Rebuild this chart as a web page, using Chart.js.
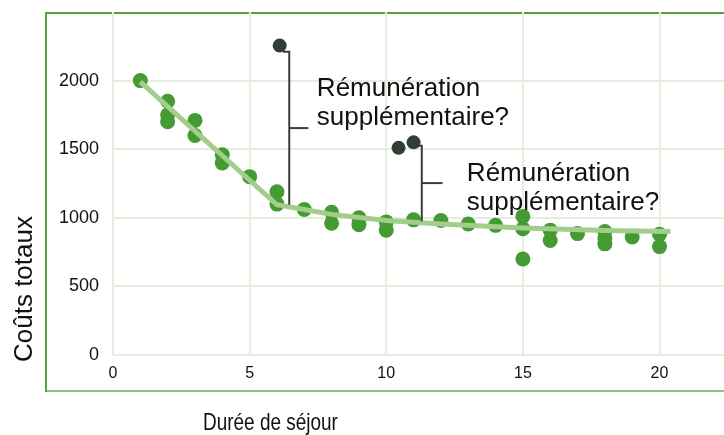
<!DOCTYPE html>
<html>
<head>
<meta charset="utf-8">
<script src="https://cdn.jsdelivr.net/npm/chart.js@4"></script>
<style>
  html, body { margin: 0; padding: 0; background: #fff; }
  #wrap { width: 724px; height: 435px; }
</style>
</head>
<body>
<div id="wrap"><canvas id="costChart" width="724" height="435"></canvas></div>
<script>
// durée de séjour / coûts totaux
const stayDays   = [1, 2, 2, 2, 3, 3, 4, 4, 5, 6, 6, 7, 8, 8, 9, 9, 10, 10, 11, 12, 13, 14, 15, 15, 15, 16, 16, 17, 18, 18, 18, 19, 20, 20];
const totalCosts = [2000, 1850, 1750, 1700, 1710, 1600, 1460, 1400, 1300, 1190, 1100, 1060, 1040, 960, 1000, 950, 970, 910, 985, 980, 955, 945, 1010, 920, 700, 910, 835, 885, 900, 850, 810, 860, 880, 790];

// points hors tendance
const outlierDays  = [6.1, 10.45, 11];
const outlierCosts = [2255, 1510, 1550];

// courbe de tendance
const trendDays  = [1, 6, 7, 8, 10, 12, 15, 18, 20.4];
const trendCosts = [1990, 1095, 1060, 1025, 980, 955, 925, 908, 900];

// crochets des annotations
const bracket1Days  = [6.22, 6.45, 6.45];
const bracket1Costs = [2211, 2211, 1095];
const tick1Days  = [6.45, 7.15];
const tick1Costs = [1654, 1654];
const bracket2Days  = [11.16, 11.3, 11.3];
const bracket2Costs = [1525, 1525, 974];
const tick2Days  = [11.3, 12.06];
const tick2Costs = [1253, 1253];

const noteLabel = ["Rémunération", "supplémentaire?"];
const noteDays  = [7.46, 12.95];
const noteCosts = [1888, 1265];

const xTicks = [0, 5, 10, 15, 20];
const yTicks = [0, 500, 1000, 1500, 2000];

const xTitle = "Durée de séjour";
const yTitle = "Coûts totaux";

const pts = (xs, ys) => xs.map((x, i) => ({ x: x, y: ys[i] }));

const bracketStyle = {
  showLine: true, pointRadius: 0, borderColor: '#36403b', borderWidth: 2, tension: 0, order: 1
};

const framePlugin = {
  id: 'frame',
  beforeDraw(chart) {
    const ctx = chart.ctx;
    ctx.save();
    ctx.lineWidth = 2;
    ctx.strokeStyle = '#8cc47f';
    ctx.beginPath(); ctx.moveTo(46, 391); ctx.lineTo(724, 391); ctx.stroke();
    ctx.strokeStyle = '#55a244';
    ctx.beginPath(); ctx.moveTo(46, 392); ctx.lineTo(46, 13); ctx.lineTo(724, 13); ctx.stroke();
    ctx.restore();
  },
  afterDraw(chart) {
    const ctx = chart.ctx;
    const xs = chart.scales.x, ys = chart.scales.y;
    ctx.save();
    ctx.fillStyle = '#111';
    // annotations
    ctx.font = '26px "Liberation Sans", Arial, sans-serif';
    ctx.textAlign = 'left';
    ctx.textBaseline = 'alphabetic';
    noteDays.forEach((d, i) => {
      const px = xs.getPixelForValue(d);
      const py = ys.getPixelForValue(noteCosts[i]);
      ctx.fillText(noteLabel[0], px, py);
      ctx.fillText(noteLabel[1], px, py + 29);
    });
    // titre x (police étroite)
    ctx.save();
    ctx.font = '24px "Liberation Sans", Arial, sans-serif';
    ctx.translate(203, 430);
    ctx.scale(0.79, 1);
    ctx.fillText(xTitle, 0, 0);
    ctx.restore();
    // titre y
    ctx.font = '26px "Liberation Sans", Arial, sans-serif';
    ctx.translate(31.5, 362);
    ctx.rotate(-Math.PI / 2);
    ctx.fillText(yTitle, 0, 0);
    ctx.restore();
  }
};

new Chart(document.getElementById('costChart').getContext('2d'), {
  type: 'scatter',
  data: {
    datasets: [
      {
        data: pts(trendDays, trendCosts),
        showLine: true,
        pointRadius: 0,
        borderColor: '#a2cd8b',
        borderWidth: 5,
        tension: 0,
        order: 2
      },
      {
        data: pts(stayDays, totalCosts),
        pointRadius: 7.5,
        pointBackgroundColor: '#459b33',
        pointBorderWidth: 0,
        order: 3
      },
      {
        data: pts(outlierDays, outlierCosts),
        pointRadius: 7,
        pointBackgroundColor: '#333d38',
        pointBorderWidth: 0,
        order: 1
      },
      Object.assign({ data: pts(bracket1Days, bracket1Costs) }, bracketStyle),
      Object.assign({ data: pts(tick1Days, tick1Costs) }, bracketStyle),
      Object.assign({ data: pts(bracket2Days, bracket2Costs) }, bracketStyle),
      Object.assign({ data: pts(tick2Days, tick2Costs) }, bracketStyle)
    ]
  },
  options: {
    responsive: false,
    animation: false,
    layout: { autoPadding: false, padding: { top: 12, left: 0, right: 0, bottom: 0 } },
    plugins: {
      legend: { display: false },
      tooltip: { enabled: false }
    },
    scales: {
      x: {
        type: 'linear',
        min: 0,
        max: 22.36,
        afterBuildTicks: s => { s.ticks = xTicks.map(v => ({ value: v })); },
        afterFit: s => { s.height = 80; s.paddingLeft = 0; s.paddingRight = 0; },
        border: { display: false },
        grid: { color: '#e4eedb', lineWidth: 2, drawTicks: false },
        ticks: {
          padding: 9,
          color: '#111',
          callback: v => String(v),
          font: { family: '"Liberation Sans", Arial, sans-serif', size: 16 }
        }
      },
      y: {
        min: 0,
        max: 2500,
        afterBuildTicks: s => { s.ticks = yTicks.map(v => ({ value: v })); },
        afterFit: s => { s.width = 113; s.paddingTop = 0; s.paddingBottom = 0; },
        border: { display: false },
        grid: { color: '#e4eedb', lineWidth: 2, drawTicks: false },
        ticks: {
          padding: 14,
          color: '#111',
          callback: v => String(v),
          font: { family: '"Liberation Sans", Arial, sans-serif', size: 18 }
        }
      }
    }
  },
  plugins: [framePlugin]
});
</script>
</body>
</html>
